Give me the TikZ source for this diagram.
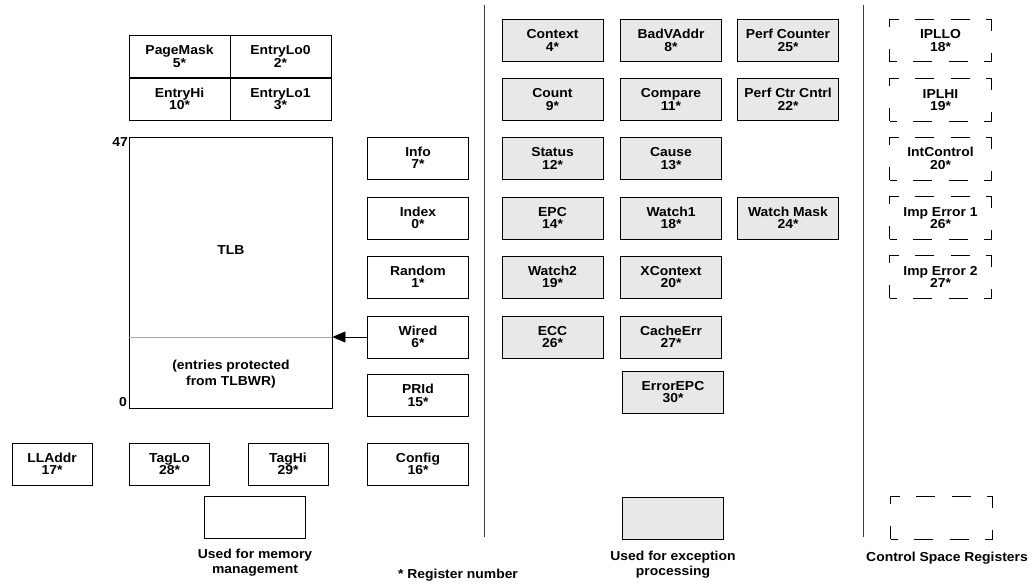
\documentclass[tikz,border=0pt]{standalone}
\usepackage{fontspec}
\setmainfont{Liberation Sans}[FakeStretch=1.07]
\usetikzlibrary{arrows.meta}
\tikzset{
  reg/.style={draw,line width=0.8pt,minimum width=101pt,minimum height=42pt,
    inner sep=0pt,align=center,font=\bfseries\fontsize{13}{12.5}\selectfont},
  smallreg/.style={reg,minimum width=80pt},
  excreg/.style={reg,fill=black!9},
  ctlreg/.style={reg,draw=none},
  ctldash/.style={line width=0.8pt,
    dash pattern=on 17pt off 16pt on 19pt off 17pt on 19pt off 16pt on 17pt off 22pt
                 on 17pt off 16pt on 19pt off 17pt on 19pt off 16pt on 17pt off 22pt,
    dash phase=10pt},
  caption/.style={align=center,inner sep=0pt,font=\bfseries\fontsize{13}{15}\selectfont},
  divider/.style={line width=0.9pt,black!75}
}
\begin{document}
\begin{tikzpicture}[x=1pt,y=-1pt]
  \useasboundingbox (0,0) rectangle (1032,583);

  \node[reg] (pagemask) at (179.5,56.5) {PageMask\\5*};
  \node[reg] (entrylo0) at (280.5,56.5) {EntryLo0\\2*};
  \node[reg] (entryhi) at (179.5,99) {EntryHi\\10*};
  \node[reg] (entrylo1) at (280.5,99) {EntryLo1\\3*};

  \node[draw,line width=0.8pt,minimum width=203pt,minimum height=271pt] (tlb) at (230.5,272.5) {};
  \node[caption] (tlbname) at (231,250) {TLB};
  \node[caption,font=\bfseries\fontsize{13}{16}\selectfont] (protected) at (231,374) {(entries protected\\from TLBWR)};
  \node[anchor=north east,inner sep=0.5pt,font=\bfseries\fontsize{13}{13}\selectfont] (top) at (tlb.north west) {47};
  \node[anchor=south east,inner sep=1.5pt,font=\bfseries\fontsize{13}{13}\selectfont] (bottom) at (tlb.south west) {0};

  \node[reg] (info) at (418,158) {Info\\7*};
  \node[reg] (index) at (418,218) {Index\\0*};
  \node[reg] (random) at (418,277) {Random\\1*};
  \node[reg] (wired) at (418,337) {Wired\\6*};
  \node[reg] (prid) at (418,395.5) {PRId\\15*};
  \node[reg] (config) at (418,464) {Config\\16*};

  \draw[black!35] (wired.west -| tlb.west) -- (wired.west -| tlb.east);
  \draw[line width=0.8pt,-{Triangle[length=13pt,width=11pt]}] (wired.west) -- (wired.west -| tlb.east);

  \node[smallreg] (lladdr) at (52,464) {LLAddr\\17*};
  \node[smallreg] (taglo) at (169.5,464) {TagLo\\28*};
  \node[smallreg] (taghi) at (288,464) {TagHi\\29*};

  \node[reg] (memkey) at (255,517.5) {};
  \node[caption,anchor=north] (memtext) at (255,549) {Used for memory\\management};
  \node[caption] (regnum) at (458,575) {* Register number};

  \coordinate (d1top) at (484,5);
  \coordinate (d1bot) at (484,537);
  \coordinate (d2top) at (863,5);
  \coordinate (d2bot) at (863,537);
  \draw[divider] (d1top) -- (d1bot);
  \draw[divider] (d2top) -- (d2bot);

  \node[excreg] (context) at (552.5,40.5) {Context\\4*};
  \node[excreg] (badvaddr) at (671,40.5) {BadVAddr\\8*};
  \node[excreg] (perfcnt) at (788,40.5) {Perf Counter\\25*};
  \node[excreg] (count) at (552.5,99.5) {Count\\9*};
  \node[excreg] (compare) at (671,99.5) {Compare\\11*};
  \node[excreg] (perfctl) at (788,99.5) {Perf Ctr Cntrl\\22*};
  \node[excreg] (status) at (552.5,158.5) {Status\\12*};
  \node[excreg] (cause) at (671,158.5) {Cause\\13*};
  \node[excreg] (epc) at (552.5,218) {EPC\\14*};
  \node[excreg] (watch1) at (671,218) {Watch1\\18*};
  \node[excreg] (watchmask) at (788,218) {Watch Mask\\24*};
  \node[excreg] (watch2) at (552.5,277) {Watch2\\19*};
  \node[excreg] (xcontext) at (671,277) {XContext\\20*};
  \node[excreg] (ecc) at (552.5,337) {ECC\\26*};
  \node[excreg] (cacheerr) at (671,337) {CacheErr\\27*};
  \node[excreg] (errorepc) at (673,392) {ErrorEPC\\30*};

  \node[excreg] (exckey) at (673,518) {};
  \node[caption,anchor=north] (exctext) at (673,551) {Used for exception\\processing};

  \node[ctlreg] (ipllo) at (940.5,40.5) {IPLLO\\18*};
  \node[ctlreg] (iplhi) at (940.5,100) {IPLHI\\19*};
  \node[ctlreg] (intctl) at (940.5,158.5) {IntControl\\20*};
  \node[ctlreg] (imperr1) at (940.5,218) {Imp Error 1\\26*};
  \node[ctlreg] (imperr2) at (940.5,277) {Imp Error 2\\27*};
  \node[ctlreg] (ctlkey) at (941.5,518) {};
  \foreach \n in {ipllo,iplhi,intctl,imperr1,imperr2,ctlkey}
    \draw[ctldash] (\n.south west) -- (\n.south east) -- (\n.north east) -- (\n.north west) -- cycle;

  \node[caption] (ctltext) at (947,558) {Control Space Registers};
\end{tikzpicture}
\end{document}
